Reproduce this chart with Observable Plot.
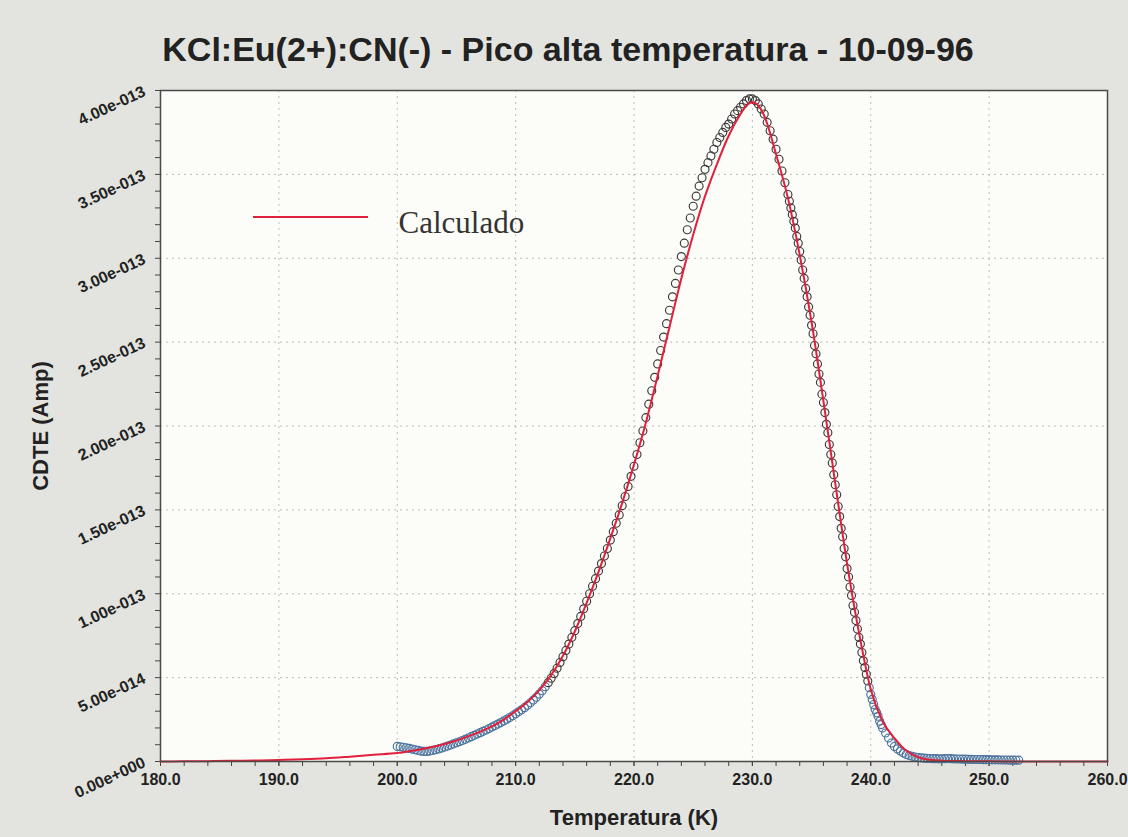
<!DOCTYPE html>
<html><head><meta charset="utf-8">
<script src="https://cdn.jsdelivr.net/npm/d3@7"></script>
<script src="https://cdn.jsdelivr.net/npm/@observablehq/plot@0.6"></script>
<style>
html,body{margin:0;padding:0;background:#e3e4df;}
#chart{width:1128px;height:837px;}
</style></head><body><div id="chart"></div>
<script>
const titleText = "KCl:Eu(2+):CN(-) - Pico alta temperatura - 10-09-96";
const xAxisTitle = "Temperatura (K)";
const yAxisTitle = "CDTE (Amp)";
const legendLabel = "Calculado";

const xMajor = [180, 190, 200, 210, 220, 230, 240, 250, 260];
const xTickLabels = ["180.0", "190.0", "200.0", "210.0", "220.0", "230.0", "240.0", "250.0", "260.0"];
// y values in units of 1e-13 A
const yMajor = [0, 0.5, 1, 1.5, 2, 2.5, 3, 3.5, 4];
const yTickLabels = ["0.00e+000", "5.00e-014", "1.00e-013", "1.50e-013", "2.00e-013", "2.50e-013", "3.00e-013", "3.50e-013", "4.00e-013"];

// Calculated curve (red line)
const calcTemp = [180,182,184,186,188,190,192,194,196,198,200,202,204,206,207,208,209,210,211,212,213,214,215,216,217,218,219,220,221,222,223,224,225,226,227,228,229,229.5,230,230.5,231,232,233,234,235,236,237,238,239,240,241,242,243,244,245,246,248,250,255,260];
const calcCdte = [0,0.001,0.002,0.004,0.006,0.009,0.013,0.019,0.029,0.040,0.050,0.073,0.104,0.150,0.178,0.210,0.250,0.300,0.355,0.425,0.515,0.630,0.775,0.945,1.130,1.330,1.540,1.770,2.020,2.300,2.590,2.880,3.140,3.370,3.560,3.730,3.860,3.910,3.930,3.910,3.850,3.620,3.360,3.020,2.620,2.150,1.660,1.180,0.770,0.430,0.240,0.140,0.065,0.025,0.010,0.005,0.002,0.001,0,0];

// Measured points (open circles)
const measTemp = [
200,200.25,200.5,200.75,201,201.25,201.5,201.75,202,202.25,202.5,202.75,203,203.25,203.5,203.75,
204,204.25,204.5,204.75,205,205.25,205.5,205.75,206,206.25,206.5,206.75,207,207.25,207.5,207.75,
208,208.25,208.5,208.75,209,209.25,209.5,209.75,210,210.25,210.5,210.75,211,211.25,211.5,211.75,
212,212.25,212.5,212.75,213,213.25,213.5,213.75,214,214.25,214.5,214.75,215,215.25,215.5,215.75,
216,216.25,216.5,216.75,217,217.25,217.5,217.75,218,218.25,218.5,218.75,219,219.25,219.5,219.75,
220,220.25,220.5,220.75,221,221.25,221.5,221.75,222,222.25,222.5,222.75,223,223.25,223.5,223.75,
224,224.25,224.5,224.75,225,225.25,225.5,225.75,226,226.25,226.5,226.75,227,227.25,227.5,227.75,
228,228.25,228.5,228.75,229,229.25,229.5,229.75,230,230.25,230.5,230.75,231,231.25,231.5,231.75,
232,232.25,232.5,232.75,233,
233.125,233.25,233.375,233.5,233.625,233.75,233.875,234,
234.125,234.25,234.375,234.5,234.625,234.75,234.875,235,
235.125,235.25,235.375,235.5,235.625,235.75,235.875,236,
236.125,236.25,236.375,236.5,236.625,236.75,236.875,237,
237.125,237.25,237.375,237.5,237.625,237.75,237.875,238,
238.125,238.25,238.375,238.5,238.625,238.75,238.875,239,
239.125,239.25,239.375,239.5,239.625,239.75,239.875,240,
240.125,240.25,240.375,240.5,240.625,240.75,240.875,241,
241.25,241.5,241.75,242,242.25,242.5,242.75,243,243.25,243.5,243.75,244,
244.25,244.5,244.75,245,245.25,245.5,245.75,246,246.25,246.5,246.75,247,
247.25,247.5,247.75,248,248.25,248.5,248.75,249,249.25,249.5,249.75,250,
250.25,250.5,250.75,251,251.25,251.5,251.75,252,252.25,252.5
];
const measCdte = [
0.090,0.088,0.085,0.082,0.078,0.074,0.070,0.066,0.062,0.060,0.060,0.062,0.066,0.070,0.075,0.080,
0.086,0.092,0.098,0.105,0.112,0.118,0.125,0.132,0.140,0.148,0.156,0.164,0.172,0.180,0.188,0.196,
0.205,0.214,0.223,0.232,0.242,0.252,0.262,0.273,0.284,0.296,0.308,0.321,0.335,0.350,0.366,0.383,
0.402,0.422,0.446,0.470,0.496,0.524,0.556,0.590,0.625,0.662,0.700,0.740,0.780,0.822,0.865,0.910,
0.955,1.000,1.045,1.090,1.135,1.180,1.225,1.270,1.320,1.370,1.420,1.470,1.525,1.580,1.640,1.700,
1.760,1.830,1.900,1.970,2.050,2.130,2.210,2.290,2.370,2.450,2.530,2.610,2.690,2.770,2.850,2.930,
3.010,3.090,3.170,3.240,3.310,3.370,3.430,3.480,3.530,3.570,3.610,3.650,3.690,3.720,3.750,3.780,
3.800,3.830,3.860,3.880,3.900,3.920,3.940,3.950,3.950,3.940,3.920,3.890,3.860,3.810,3.760,3.710,
3.650,3.590,3.520,3.450,3.380,
3.34,3.30,3.26,3.22,3.18,3.13,3.09,3.04,
2.99,2.93,2.88,2.82,2.77,2.71,2.66,2.60,
2.55,2.48,2.43,2.37,2.31,2.26,2.19,2.14,
2.08,2.01,1.96,1.89,1.83,1.78,1.71,1.65,
1.59,1.52,1.46,1.39,1.34,1.27,1.22,1.15,
1.10,1.04,0.99,0.93,0.89,0.84,0.79,0.74,
0.70,0.65,0.60,0.56,0.52,0.48,0.44,0.40,
0.37,0.34,0.31,0.29,0.27,0.24,0.22,0.20,
0.17,0.14,0.11,0.090,0.075,0.062,0.050,0.042,0.036,0.031,0.027,0.024,
0.022,0.020,0.019,0.018,0.017,0.017,0.016,0.016,0.017,0.018,0.017,0.016,
0.015,0.015,0.014,0.014,0.013,0.013,0.012,0.012,0.012,0.011,0.011,0.011,
0.010,0.010,0.010,0.009,0.009,0.009,0.008,0.008,0.008,0.008
];

const calc = calcTemp.map((t, i) => ({t, v: calcCdte[i]}));
const meas = measTemp.map((t, i) => ({t, v: measCdte[i]}));
const xMinor = d3.range(180, 260.001, 2);
const yMinor = d3.range(0, 41).map(k => k / 10);
const xLab = d => xTickLabels[xMajor.indexOf(d)];
const yLab = d => yTickLabels[yMajor.indexOf(d)];

const sans = "'Liberation Sans', Arial, sans-serif";
const gridStyle = {stroke: "#a0a0a0", strokeOpacity: 0.7, strokeDasharray: "2,4", strokeWidth: 1};
// the printed scan shows the low-signal circles with a bluish tint
const dotStroke = d => (d.v < 0.45 ? "#4c739e" : "#3a3a3a");

const plot = Plot.plot({
  width: 1128, height: 837,
  marginLeft: 160, marginRight: 21, marginTop: 90, marginBottom: 76,
  style: {background: "transparent", fontFamily: sans, color: "#2a2a2a", overflow: "visible"},
  x: {domain: [180, 260], label: null},
  y: {domain: [0, 4], label: null},
  marks: [
    Plot.frame({fill: "#fcfcf8", stroke: null}),
    Plot.gridX(xMajor.slice(1, -1), gridStyle),
    Plot.gridY(yMajor.slice(1, -1), gridStyle),
    Plot.axisX({ticks: xMinor, tickSize: 5, tickFormat: () => "", stroke: "#444"}),
    Plot.axisX({ticks: xMajor, tickSize: 5, tickPadding: 7, tickFormat: xLab, fontSize: 16, fontWeight: "bold", stroke: "#444", fill: "#222"}),
    Plot.axisY({ticks: yMinor, tickSize: 5, tickFormat: () => "", stroke: "#444"}),
    Plot.text(yMajor, {frameAnchor: "left", y: d => d, text: yLab, textAnchor: "end", lineAnchor: "middle", rotate: -25, dx: -16, dy: 0, fontSize: 16, fontWeight: "bold", fill: "#222"}),
    Plot.dot(meas, {x: "t", y: "v", r: 4, stroke: dotStroke, strokeWidth: 1.15, fill: "none"}),
    Plot.line(calc, {x: "t", y: "v", stroke: "#e0203c", strokeWidth: 2, curve: "monotone-x"}),
    Plot.frame({stroke: "#4a4a4a", strokeWidth: 1.5}),
    Plot.text([titleText], {frameAnchor: "top", text: d => d, textAnchor: "middle", lineAnchor: "middle", dx: -66, dy: -40, fontSize: 34, fontWeight: "bold", fill: "#222"}),
    Plot.text([xAxisTitle], {frameAnchor: "bottom", text: d => d, textAnchor: "middle", lineAnchor: "middle", dy: 56, fontSize: 22, fontWeight: "bold", fill: "#222"}),
    Plot.text([yAxisTitle], {frameAnchor: "left", text: d => d, textAnchor: "middle", lineAnchor: "middle", dx: -120, rotate: -90, fontSize: 22, fontWeight: "bold", fill: "#222"}),
    Plot.text([legendLabel], {frameAnchor: "top-left", text: d => d, textAnchor: "start", lineAnchor: "middle", dx: 238, dy: 133, fontSize: 31, fontFamily: "'Liberation Serif', 'Times New Roman', serif", fill: "#333"})
  ]
});

d3.select(plot).append("line")
  .attr("x1", 253).attr("x2", 368).attr("y1", 217).attr("y2", 217)
  .attr("stroke", "#e0203c").attr("stroke-width", 2);

document.getElementById("chart").appendChild(plot);
</script>
</body></html>
